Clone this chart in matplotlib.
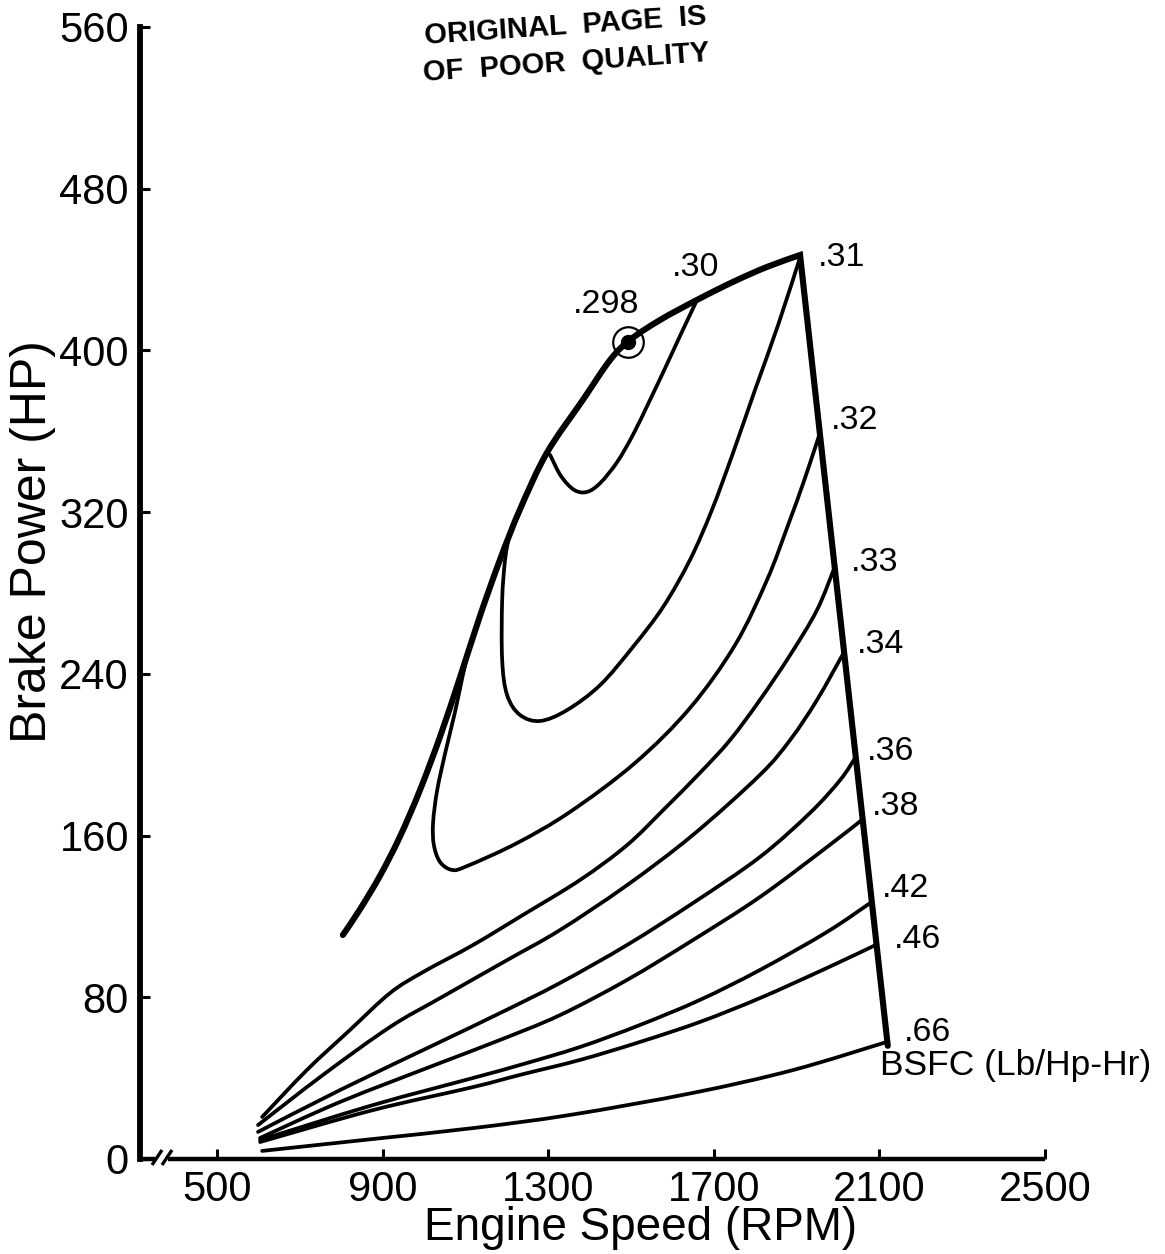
import numpy as np
import matplotlib
matplotlib.use("Agg")
import matplotlib.pyplot as plt
from matplotlib.path import Path
from matplotlib.patches import PathPatch

plt.rcParams['font.family'] = ['Liberation Sans', 'DejaVu Sans']

# ---- engine map data: engine speed (RPM) vs brake power (HP) ----
# full-load (maximum power) curve
envelope_rpm = [803, 844, 893, 941, 989, 1038, 1086, 1134, 1183, 1231, 1296,
                1383, 1449, 1497, 1570, 1659, 1746, 1828, 1908]
envelope_hp = [110.8, 123.4, 140.2, 159.5, 182.3, 209.0, 238.2, 268.4, 296.6,
               321.3, 349.3, 375.5, 395.3, 405.2, 415.1, 425.0, 433.9, 441.3,
               447.2]

# governor line (maximum speed)
governor_rpm = [1908, 2120]
governor_hp = [447.2, 56]

# minimum BSFC point
best_rpm, best_hp, best_label = 1492, 404, '.298'

# constant-BSFC contours (Lb/Hp-Hr)
bsfc_30_rpm = [1659, 1620, 1582, 1543, 1504, 1466, 1425, 1393, 1362, 1330,
               1304]
bsfc_30_hp = [425.0, 408.1, 391.3, 374.5, 358.2, 344.8, 334.4, 330.0, 331.0,
              337.9, 348.3]

bsfc_31_rpm = [1908, 1855, 1799, 1746, 1695, 1642, 1577, 1504, 1425, 1345,
               1280, 1231, 1200, 1188, 1188, 1195, 1205]
bsfc_31_hp = [446, 412.6, 380.4, 349.3, 321.1, 296.4, 273.1, 253.3, 234.5,
              222.1, 216.7, 219.7, 229.5, 246.9, 276.5, 296.3, 308.7]

bsfc_32_rpm = [1956, 1920, 1879, 1828, 1751, 1642, 1509, 1352, 1224, 1103,
               1067, 1038, 1023, 1021, 1031, 1052, 1074, 1093, 1110]
bsfc_32_hp = [359.2, 336.9, 313.6, 286.4, 254.3, 223.1, 195.9, 171.7, 156.3,
              144.9, 143.0, 146.9, 155.3, 166.2, 182.5, 202.3, 221.1, 239.4,
              254.3]

bsfc_33_rpm = [1992, 1949, 1884, 1811, 1739, 1666, 1582, 1490, 1376, 1238,
               1118, 997, 917, 820, 716, 608]
bsfc_33_hp = [293, 271.6, 249.3, 227.1, 207.3, 191.0, 173.6, 155.3, 138.0,
              120.7, 105.9, 92.5, 82.1, 63.8, 44.0, 20.8]

bsfc_34_rpm = [2015, 1949, 1884, 1811, 1649, 1490, 1328, 1200, 1038, 917,
               755, 598]
bsfc_34_hp = [251, 227.1, 207.3, 190.0, 160.3, 135.5, 113.3, 98.4, 79.6,
              65.3, 41.6, 16.8]

bsfc_36_rpm = [2043, 2005, 1932, 1811, 1649, 1490, 1328, 1183, 1038, 796, 598]
bsfc_36_hp = [199, 187.5, 171.2, 149.4, 126.6, 105.9, 87.1, 72.2, 57.9, 34.1,
              13.4]

bsfc_38_rpm = [2059, 1973, 1811, 1649, 1490, 1328, 1183, 1038, 796, 603]
bsfc_38_hp = [168, 154.3, 129.6, 108.3, 88.6, 71.2, 58.9, 47.5, 28.2, 10.4]

bsfc_42_rpm = [2080, 1973, 1811, 1666, 1521, 1376, 1231, 1118, 876, 603]
bsfc_42_hp = [127, 112.3, 93.5, 78.7, 66.3, 55.4, 46.5, 40.1, 26.7, 9.4]

bsfc_46_rpm = [2092, 1973, 1811, 1666, 1521, 1376, 1231, 1118, 876, 603]
bsfc_46_hp = [106, 94.5, 79.6, 67.8, 57.9, 49.0, 41.6, 35.6, 24.2, 8.4]

bsfc_66_rpm = [2119, 1891, 1649, 1352, 1118, 876, 608]
bsfc_66_hp = [58, 44.0, 32.7, 21.8, 15.3, 9.9, 4.0]

bsfc_labels = ['.30', '.31', '.32', '.33', '.34', '.36', '.38', '.42', '.46', '.66']

x_ticks = [500, 900, 1300, 1700, 2100, 2500]
y_ticks = [0, 80, 160, 240, 320, 400, 480, 560]


def smooth_path(xs, ys, tail=None):
    """Cubic Bezier path (Catmull-Rom tangents) through the given points."""
    p = np.column_stack([xs, ys]).astype(float)
    n = len(p)
    verts = [p[0]]
    codes = [Path.MOVETO]
    for i in range(n - 1):
        p0 = p[i - 1] if i > 0 else p[i]
        p1, p2 = p[i], p[i + 1]
        p3 = p[i + 2] if i + 2 < n else p[i + 1]
        verts += [p1 + (p2 - p0) / 6.0, p2 - (p3 - p1) / 6.0, p2]
        codes += [Path.CURVE4] * 3
    if tail is not None:
        for q in tail:
            verts.append(np.asarray(q, float))
            codes.append(Path.LINETO)
    return Path(np.array(verts), codes)


fig = plt.figure(figsize=(11.65, 12.54), dpi=100)
ax = fig.add_axes([140 / 1165, 1 - 1159 / 1254, 905 / 1165, 1132 / 1254])
ax.set_xlim(312.7, 2500)
ax.set_ylim(0, 560)

# full-load curve joined to the governor line
outline = smooth_path(envelope_rpm, envelope_hp,
                      tail=[(governor_rpm[1], governor_hp[1])])
ax.add_patch(PathPatch(outline, fill=False, lw=4.4, edgecolor='black',
                       capstyle='round', joinstyle='miter', zorder=4))

contours = [
    (bsfc_30_rpm, bsfc_30_hp, (-1, 23)),
    (bsfc_31_rpm, bsfc_31_hp, (30, 0)),
    (bsfc_32_rpm, bsfc_32_hp, (25, 9)),
    (bsfc_33_rpm, bsfc_33_hp, (29, 3)),
    (bsfc_34_rpm, bsfc_34_hp, (26, 5)),
    (bsfc_36_rpm, bsfc_36_hp, (25, 4)),
    (bsfc_38_rpm, bsfc_38_hp, (24, 9)),
    (bsfc_42_rpm, bsfc_42_hp, (25, 10)),
    (bsfc_46_rpm, bsfc_46_hp, (30, 4)),
    (bsfc_66_rpm, bsfc_66_hp, (29, 7)),
]
for (rpm, hp, offset), label in zip(contours, bsfc_labels):
    ax.add_patch(PathPatch(smooth_path(rpm, hp), fill=False, lw=2.7,
                           edgecolor='black', capstyle='round',
                           joinstyle='round', zorder=3))
    ax.annotate(label, xy=(rpm[0], hp[0]), xytext=offset,
                textcoords='offset points', ha='center', va='center',
                fontsize=24.5, color='black')

ax.annotate('BSFC (Lb/Hp-Hr)', xy=(bsfc_66_rpm[0], bsfc_66_hp[0]),
            xytext=(-5, -17), textcoords='offset points', ha='left',
            va='center', fontsize=25.5, color='black', annotation_clip=False)

# minimum BSFC point
ax.plot([best_rpm], [best_hp], marker='o', ms=22, mfc='none', mec='black',
        mew=1.6, zorder=5)
ax.plot([best_rpm], [best_hp], marker='o', ms=10, mfc='black', mec='black',
        zorder=6)
ax.annotate(best_label, xy=(best_rpm, best_hp), xytext=(-16, 27),
            textcoords='offset points', ha='center', va='center',
            fontsize=24.5, color='black')

# axes styling
for side in ('top', 'right', 'bottom'):
    ax.spines[side].set_visible(False)
ax.spines['left'].set_linewidth(4.2)

ax.set_xticks(x_ticks)
ax.set_yticks(y_ticks)
ax.tick_params(axis='both', direction='in', labelsize=30, colors='black')
ax.tick_params(axis='y', length=7, width=2.2, pad=8)
ax.tick_params(axis='x', length=7, width=2.2, pad=8)

# broken x axis drawn along the bottom edge
px = 1.0 / 905
py = 1.0 / 1132
axis_kw = dict(transform=ax.transAxes, color='black', clip_on=False,
               solid_capstyle='butt')
ax.plot([0, 15 * px], [0, 0], lw=3.2, **axis_kw)
ax.plot([12 * px, 22 * px], [-6 * py, 9 * py], lw=2.4, **axis_kw)
ax.plot([22 * px, 32 * px], [-6 * py, 9 * py], lw=2.4, **axis_kw)
ax.plot([28 * px, 1.0], [0, 0], lw=3.2, **axis_kw)

ax.set_xlabel('Engine Speed (RPM)', fontsize=33, va='center')
ax.xaxis.set_label_coords(0.553, -0.061)
ax.set_ylabel('Brake Power (HP)', fontsize=36, va='center')
ax.yaxis.set_label_coords(-0.118, 0.545)

# page stamp
fig.text(565 / 1165, 1 - 26 / 1254, 'ORIGINAL  PAGE  IS', rotation=4,
         ha='center', va='center', fontsize=21, fontweight='bold',
         rotation_mode='anchor')
fig.text(566 / 1165, 1 - 63 / 1254, 'OF  POOR  QUALITY', rotation=4,
         ha='center', va='center', fontsize=21, fontweight='bold',
         rotation_mode='anchor')

fig.savefig('out.png', dpi=100, facecolor='white')
